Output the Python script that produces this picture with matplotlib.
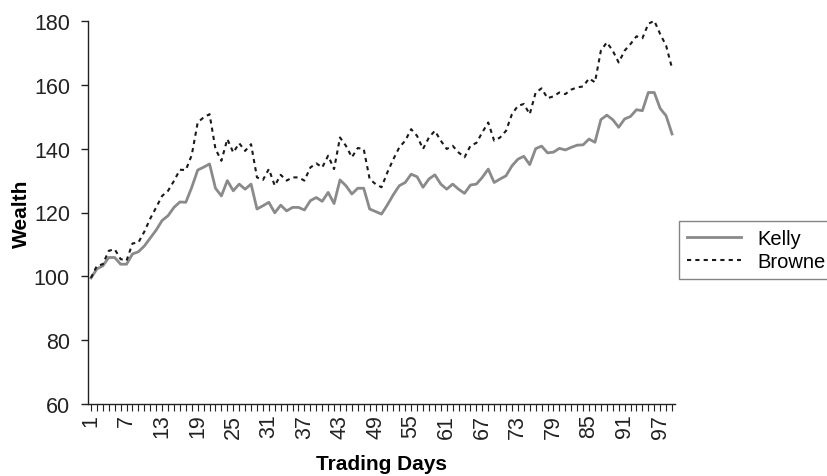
import matplotlib
matplotlib.use("Agg")
import matplotlib.pyplot as plt
from matplotlib.ticker import FixedLocator, MultipleLocator

plt.rcParams["font.family"] = ["Liberation Sans", "DejaVu Sans"]

days = list(range(1, 100))

kelly = [
    99.5, 102.3, 103.3, 105.9, 105.9, 103.8, 103.8, 107.0, 107.7, 109.5,
    112.0, 114.5, 117.5, 119.0, 121.6, 123.3, 123.2, 127.9, 133.3, 134.2,
    135.2, 127.6, 125.2, 130.0, 126.8, 128.9, 127.3, 128.9, 121.1, 122.1,
    123.2, 119.9, 122.3, 120.5, 121.6, 121.6, 120.8, 123.7, 124.7, 123.5,
    126.3, 122.8, 130.2, 128.4, 125.8, 127.6, 127.6, 121.1, 120.3, 119.5,
    122.4, 125.6, 128.4, 129.4, 132.0, 131.2, 127.9, 130.5, 131.8, 128.9,
    127.3, 128.9, 127.3, 126.0, 128.6, 128.9, 131.0, 133.6, 129.4, 130.5,
    131.5, 134.6, 136.7, 137.6, 135.0, 140.0, 140.8, 138.7, 138.9, 140.1,
    139.6, 140.4, 141.1, 141.2, 143.0, 142.0, 149.1, 150.5, 149.1, 146.7,
    149.3, 150.1, 152.2, 151.9, 157.6, 157.6, 152.6, 150.3, 144.6,
]

browne = [
    99.5, 103.3, 103.8, 108.0, 108.5, 105.4, 104.9, 110.3, 110.6, 114.0,
    118.1, 121.6, 125.2, 126.8, 129.9, 133.4, 133.3, 138.0, 148.2, 149.8,
    150.8, 139.9, 136.2, 143.0, 138.8, 141.7, 139.3, 141.4, 131.0, 130.2,
    133.6, 128.4, 131.8, 130.0, 131.0, 131.0, 130.0, 134.1, 135.4, 134.1,
    137.8, 133.6, 143.5, 140.9, 137.3, 140.2, 139.9, 130.5, 128.9, 127.9,
    132.6, 136.7, 140.4, 142.5, 146.1, 144.0, 139.9, 143.5, 145.6, 142.5,
    139.9, 140.9, 138.8, 137.3, 140.9, 141.8, 145.1, 148.2, 142.5, 143.5,
    145.6, 150.8, 153.4, 154.0, 150.8, 157.6, 158.9, 155.8, 156.4, 157.6,
    157.1, 158.5, 159.2, 159.5, 162.0, 160.8, 170.7, 173.3, 170.7, 167.0,
    170.7, 172.8, 175.2, 174.6, 179.1, 180.1, 175.9, 172.3, 165.2,
]

label_days = list(range(1, 100, 6))
y_ticks = [60, 80, 100, 120, 140, 160, 180]

fig = plt.figure(figsize=(8.28, 4.77), dpi=100)
ax = fig.add_axes([88 / 828, 1 - 405 / 477, 587 / 828, 383 / 477])

ax.plot(days, kelly, color="#8a8a8a", linewidth=2.0, label="Kelly")
ax.plot(days, browne, color="#1a1a1a", linewidth=1.5,
        linestyle=(0, (2.0, 2.0)), label="Browne")

ax.set_xlim(0.5, 99.5)
ax.set_ylim(60, 180)
ax.set_yticks(y_ticks)
ax.xaxis.set_major_locator(FixedLocator(label_days))
ax.xaxis.set_minor_locator(MultipleLocator(1))
ax.set_xticklabels([str(d) for d in label_days], rotation=90)

for side in ["top", "right"]:
    ax.spines[side].set_visible(False)
for side in ["left", "bottom"]:
    ax.spines[side].set_linewidth(1.0)
    ax.spines[side].set_color("#222222")

ax.tick_params(axis="y", direction="out", length=5, width=1.0,
               labelsize=15.5, colors="#222222", pad=8)
ax.tick_params(axis="x", which="both", direction="out", length=5, width=0.8,
               colors="#222222", labelsize=15.5, pad=2)

ax.set_xlabel("Trading Days", fontsize=15, fontweight="bold")
ax.set_ylabel("Wealth", fontsize=15, fontweight="bold")
ax.xaxis.set_label_coords((381 - 88) / 587, (405 - 455) / 383)
ax.yaxis.set_label_coords((31 - 88) / 587, 0.5)

leg = fig.legend(loc="center left", bbox_to_anchor=(679 / 828, 1 - 251 / 477),
                 fontsize=14.5, frameon=True, fancybox=False, handlelength=2.7,
                 handletextpad=0.8, borderpad=0.4, labelspacing=0.2,
                 borderaxespad=0)
leg.get_frame().set_edgecolor("#666666")
leg.get_frame().set_linewidth(1.0)

fig.savefig("out.png", dpi=100)
